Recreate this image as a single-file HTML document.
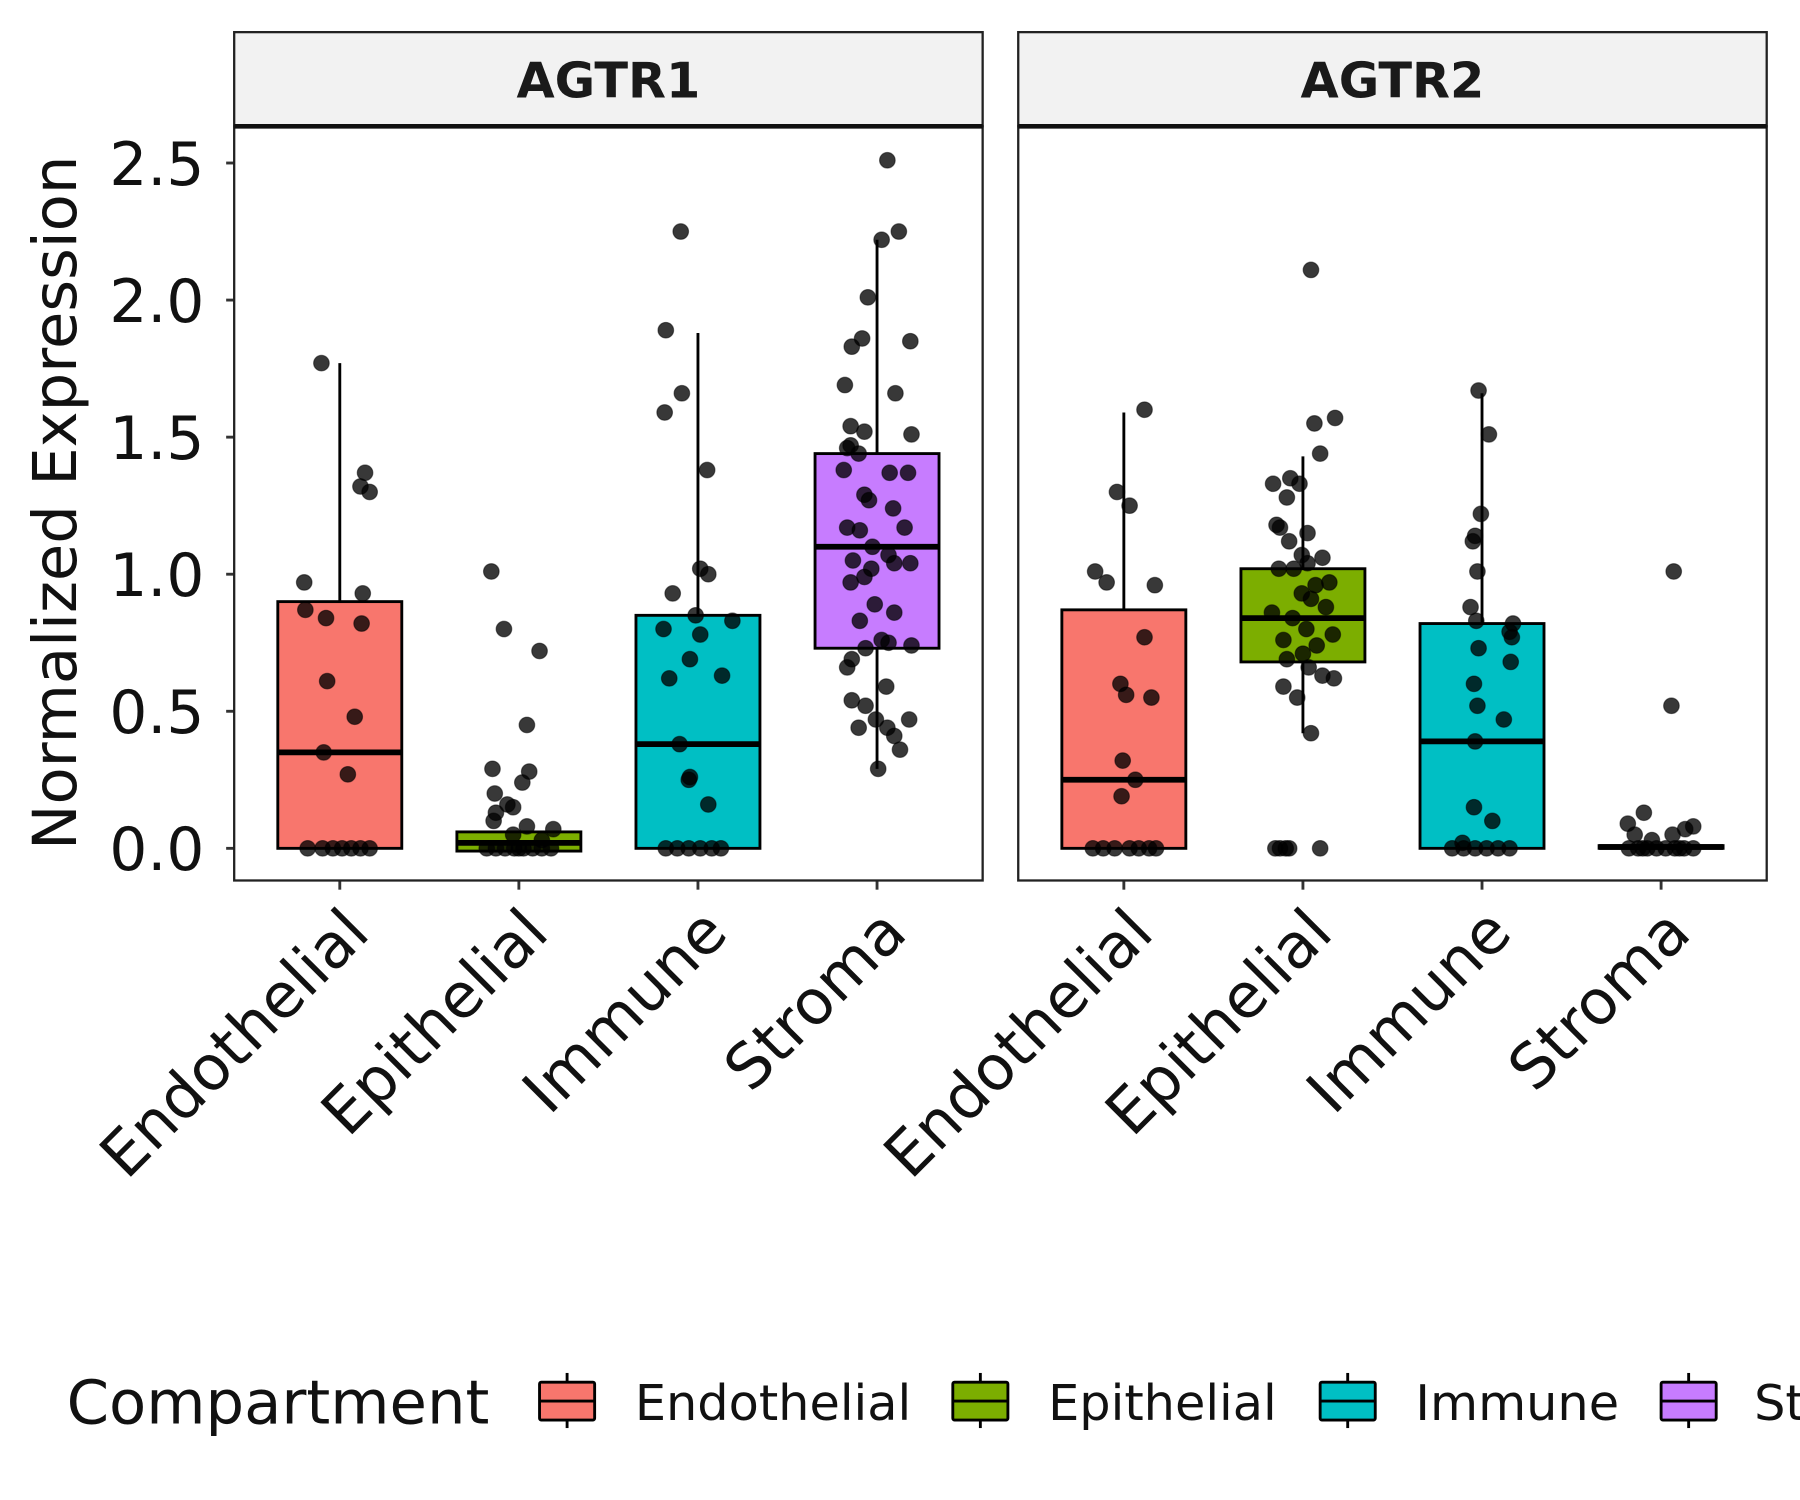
<!DOCTYPE html>
<html><head><meta charset="utf-8"><style>
html,body{margin:0;padding:0;background:#fff}
svg{display:block;font-family:"DejaVu Sans","Liberation Sans",sans-serif}
</style></head><body>
<svg id="chart" width="1800" height="1500" viewBox="0 0 1568 1306.67" xmlns="http://www.w3.org/2000/svg">
<g id="layer"></g>
</svg>
<script>
const panels = ["AGTR1","AGTR2"];
const categories = ["Endothelial","Epithelial","Immune","Stroma"];
const colors = ["#F8766D","#7CAE00","#00BFC4","#C77CFF"];
const yTicks = [0,0.5,1.0,1.5,2.0,2.5];
const yTickLabels = ["0.0","0.5","1.0","1.5","2.0","2.5"];
// box stats: [whiskerLo, q1, median, q3, whiskerHi]
const boxAGTR1 = [[0,0,0.35,0.90,1.77],[0,-0.01,0.02,0.06,0.06],[0,0,0.38,0.85,1.88],[0.29,0.73,1.10,1.44,2.22]];
const boxAGTR2 = [[0,0,0.25,0.87,1.59],[0.42,0.68,0.84,1.02,1.43],[0,0,0.39,0.82,1.66],[0,0,0.005,0.01,0.01]];
// points: [jitter(px in band), value]
const ptsA1 = [
 [[-16,1.77],[22,1.37],[18,1.32],[26,1.30],[-31,0.97],[20,0.93],[-30,0.87],[-12,0.84],[19,0.82],[-11,0.61],[13,0.48],[-14,0.35],[7,0.27],[-28,0],[-15,0],[-6,0],[2,0],[10,0],[18,0],[26,0]],
 [[-24,1.01],[-13,0.80],[18,0.72],[7,0.45],[-23,0.29],[9,0.28],[3,0.24],[-21,0.20],[-10,0.16],[-5,0.15],[-20,0.13],[-22,0.10],[7,0.08],[30,0.07],[-5,0.05],[20,0.03],[-28,0],[-20,0],[-12,0],[-4,0],[4,0],[12,0],[20,0],[28,0],[0,0]],
 [[-15,2.25],[-28,1.89],[-14,1.66],[-29,1.59],[8,1.38],[2,1.02],[9,1.00],[-22,0.93],[-2,0.85],[30,0.83],[-30,0.80],[2,0.78],[-7,0.69],[21,0.63],[-25,0.62],[-16,0.38],[-7,0.26],[-8,0.25],[9,0.16],[-28,0],[-18,0],[-8,0],[2,0],[12,0],[20,0]],
 [[9,2.51],[19,2.25],[4,2.22],[-8,2.01],[-13,1.86],[29,1.85],[-22,1.83],[-28,1.69],[16,1.66],[-23,1.54],[-11,1.52],[30,1.51],[-23,1.47],[-26,1.46],[-16,1.44],[-29,1.38],[11,1.37],[27,1.37],[-11,1.29],[-7,1.27],[14,1.24],[-26,1.17],[-15,1.16],[24,1.17],[-4,1.10],[10,1.07],[-21,1.05],[15,1.04],[29,1.04],[-5,1.02],[-11,0.99],[-23,0.97],[-2,0.89],[15,0.86],[-15,0.83],[4,0.76],[10,0.75],[30,0.74],[-10,0.73],[-22,0.69],[-26,0.66],[8,0.59],[-22,0.54],[-10,0.52],[-1,0.47],[28,0.47],[-16,0.44],[9,0.44],[15,0.41],[20,0.36],[1,0.29]]
];
const ptsA2 = [
 [[18,1.60],[-6,1.30],[5,1.25],[-25,1.01],[-15,0.97],[27,0.96],[18,0.77],[-3,0.60],[2,0.56],[24,0.55],[-1,0.32],[10,0.25],[-2,0.19],[-27,0],[-18,0],[-8,0],[5,0],[13,0],[22,0],[28,0]],
 [[7,2.11],[28,1.57],[10,1.55],[15,1.44],[-11,1.35],[-26,1.33],[-3,1.33],[-14,1.28],[-23,1.18],[4,1.15],[-20,1.17],[-12,1.12],[-1,1.07],[17,1.06],[4,1.04],[-21,1.02],[-8,1.02],[23,0.97],[11,0.96],[-1,0.93],[7,0.91],[20,0.88],[-27,0.86],[-9,0.84],[3,0.80],[26,0.78],[-17,0.76],[12,0.74],[0,0.71],[-14,0.69],[5,0.66],[17,0.63],[27,0.62],[-17,0.59],[-5,0.55],[7,0.42],[-24,0],[-20,0],[-15,0],[-12,0],[15,0]],
 [[-3,1.67],[6,1.51],[-1,1.22],[-6,1.14],[-8,1.12],[-4,1.01],[-10,0.88],[-5,0.83],[27,0.82],[24,0.79],[26,0.77],[-3,0.73],[25,0.68],[-7,0.60],[-4,0.52],[19,0.47],[-6,0.39],[-7,0.15],[9,0.10],[-17,0.02],[-26,0],[-16,0],[-6,0],[4,0],[14,0],[24,0]],
 [[11,1.01],[9,0.52],[-15,0.13],[-29,0.09],[28,0.08],[21,0.07],[-23,0.05],[10,0.05],[-8,0.03],[-28,0],[-20,0],[-12,0],[-4,0],[4,0],[12,0],[20,0],[28,0],[-16,0],[16,0]]
];
const boxes=[boxAGTR1,boxAGTR2], points=[ptsA1,ptsA2];
const NS="http://www.w3.org/2000/svg";
const layer=document.getElementById('layer');
function mk(tag,attrs,parent){const e=document.createElementNS(NS,tag);for(const k in attrs)e.setAttribute(k,attrs[k]);(parent||layer).appendChild(e);return e;}
const panelX=[204,887], panelW=652, plotTop=110, plotBot=767, stripTop=28;
function yS(v){return 739 - v*238.8;}
function xS(p,i){return panelX[p]+92+i*156;}
const bw=108;

// y axis
yTicks.forEach((t,i)=>{
  const y=yS(t);
  const tk=mk('line',{x1:197,x2:204,y1:y,y2:y,stroke:'#333','stroke-width':2.5});
  
  
  const tx=mk('text',{x:178,y:y+19,'text-anchor':'end','font-size':52,fill:'#111'});
  tx.textContent=yTickLabels[i];
  
  
});
const yt=mk('text',{x:0,y:0,transform:'translate(66,438) rotate(-90)','text-anchor':'middle','font-size':53,fill:'#111'});
yt.textContent='Normalized Expression';



panels.forEach((pn,p)=>{
  const g=mk('g',{});
  
  
  const st=mk('rect',{x:panelX[p],y:stripTop,width:panelW,height:plotTop-stripTop,fill:'#f2f2f2',stroke:'#222','stroke-width':2},g);
  
  
  const stt=mk('text',{x:panelX[p]+panelW/2,y:85,'text-anchor':'middle','font-size':43,'font-weight':'bold',fill:'#1a1a1a'},g);
  stt.textContent=pn;
  
  
  categories.forEach((c,i)=>{
    const b=boxes[p][i], cx=xS(p,i);
    const bg=mk('g',{},g);
    
    
    mk('line',{x1:cx,x2:cx,y1:yS(b[0]),y2:yS(b[1]),stroke:'#000','stroke-width':2.5},bg);
    mk('line',{x1:cx,x2:cx,y1:yS(b[3]),y2:yS(b[4]),stroke:'#000','stroke-width':2.5},bg);
    mk('rect',{x:cx-bw/2,y:yS(b[3]),width:bw,height:Math.max(yS(b[1])-yS(b[3]),1),fill:colors[i],stroke:'#000','stroke-width':2.5},bg);
    mk('line',{x1:cx-bw/2,x2:cx+bw/2,y1:yS(b[2]),y2:yS(b[2]),stroke:'#000','stroke-width':5},bg);
    points[p][i].forEach(pt=>{
      const d=mk('circle',{cx:cx+pt[0],cy:yS(pt[1]),r:6.8,fill:'rgba(0,0,0,0.78)',stroke:'rgba(0,0,0,0.5)','stroke-width':1},g);
      
      
    });
    const tk=mk('line',{x1:cx,x2:cx,y1:plotBot,y2:plotBot+8,stroke:'#333','stroke-width':2.5},g);
    
    
    const tl=mk('text',{x:0,y:0,transform:`translate(${cx+28},${plotBot+48}) rotate(-45)`,'text-anchor':'end','font-size':54,fill:'#111'},g);
    tl.textContent=c;
    
    
  });
  const fr=mk('rect',{x:panelX[p],y:plotTop,width:panelW,height:plotBot-plotTop,fill:'none',stroke:'#222','stroke-width':2},g);
  
  
  mk('line',{x1:panelX[p],x2:panelX[p]+panelW,y1:plotTop,y2:plotTop,stroke:'#111','stroke-width':4},g);
});

// legend
const lg=mk('g',{});


const lt=mk('text',{x:58,y:1240,'font-size':53,fill:'#111'},lg);
lt.textContent='Compartment';


const keyX=[470,830,1150,1447], txtX=[553,913,1233,1528];
categories.forEach((c,i)=>{
  const e=mk('g',{},lg);
  
  
  const x=keyX[i];
  mk('line',{x1:x+24,x2:x+24,y1:1196,y2:1244,stroke:'#000','stroke-width':2.5},e);
  mk('rect',{x:x,y:1204,width:48,height:33,fill:colors[i],stroke:'#000','stroke-width':2.5,rx:1.5},e);
  mk('line',{x1:x,x2:x+48,y1:1220.5,y2:1220.5,stroke:'#000','stroke-width':2.5},e);
  const t=mk('text',{x:txtX[i],y:1237,'font-size':43,fill:'#111'},e);
  t.textContent=c;
});
</script>
</body></html>
